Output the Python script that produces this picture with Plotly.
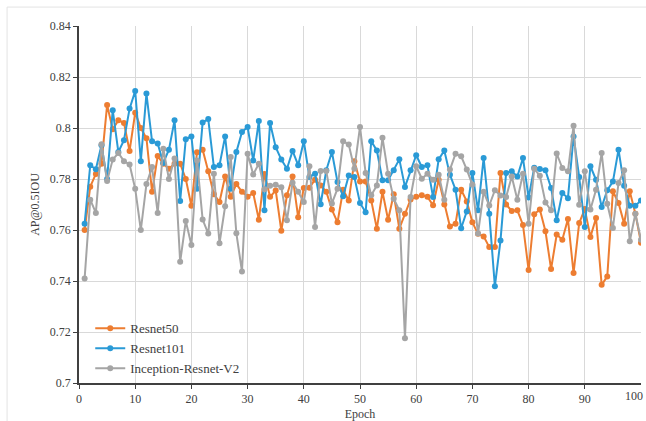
import plotly.graph_objects as go

epochs = list(range(1, 101))

resnet50 = [
    0.760, 0.777, 0.782, 0.786, 0.809, 0.7995, 0.803, 0.802, 0.791, 0.806,
    0.800, 0.796, 0.775, 0.789, 0.786, 0.784, 0.786, 0.786, 0.780, 0.7695,
    0.7905, 0.7915, 0.783, 0.774, 0.771, 0.781, 0.773, 0.778, 0.775, 0.773,
    0.7745, 0.764, 0.782, 0.773, 0.7755, 0.7597, 0.7736, 0.781, 0.765, 0.7765,
    0.7766, 0.7797, 0.7775, 0.775, 0.768, 0.763, 0.7758, 0.7716, 0.787, 0.779,
    0.779, 0.7716, 0.7605, 0.775, 0.764, 0.774, 0.7605, 0.7664, 0.772, 0.773,
    0.7736, 0.773, 0.7697, 0.7797, 0.770, 0.7614, 0.7625, 0.7758, 0.7712, 0.763,
    0.7585, 0.7575, 0.7533, 0.7533, 0.7824, 0.770, 0.7675, 0.7677, 0.762, 0.7443,
    0.7662, 0.768, 0.7595, 0.7447, 0.7582, 0.7562, 0.7643, 0.7431, 0.7627, 0.7682,
    0.7573, 0.7647, 0.7385, 0.7418, 0.7752, 0.7706, 0.7625, 0.7752, 0.7664, 0.755,
]

resnet101 = [
    0.7625, 0.7854, 0.7838, 0.7932, 0.780, 0.807, 0.7906, 0.7952, 0.8076, 0.8145,
    0.787, 0.8135, 0.7948, 0.7939, 0.7863, 0.7915, 0.803, 0.7714, 0.7956, 0.7967,
    0.7762, 0.8022, 0.8035, 0.7847, 0.7854, 0.7967, 0.7762, 0.7906, 0.7984, 0.8004,
    0.7873, 0.8027, 0.7677, 0.802, 0.7925, 0.7876, 0.784, 0.791, 0.7854, 0.7948,
    0.7808, 0.7821, 0.7701, 0.7834, 0.7906, 0.7788, 0.7732, 0.7814, 0.7808, 0.7706,
    0.767, 0.7948, 0.7912, 0.7795, 0.7795, 0.7834, 0.7877, 0.7769, 0.7834, 0.7893,
    0.7847, 0.7854, 0.7729, 0.7877, 0.7912, 0.7817, 0.7758, 0.7607, 0.7673, 0.7824,
    0.7677, 0.7882, 0.7664, 0.7379, 0.7559, 0.7824, 0.783, 0.781, 0.7882, 0.7727,
    0.7844, 0.7839, 0.7834, 0.7765, 0.7638, 0.7745, 0.7725, 0.7967, 0.7808, 0.7612,
    0.785, 0.7797, 0.769, 0.7756, 0.779, 0.7915, 0.7774, 0.7695, 0.7695, 0.7716,
]

inception_v2 = [
    0.741, 0.7719, 0.7667, 0.7936, 0.7792, 0.7876, 0.7902, 0.787, 0.7857, 0.7762,
    0.760, 0.778, 0.7847, 0.7667, 0.7919, 0.780, 0.788, 0.7475, 0.7635, 0.7541,
    0.7873, 0.7641, 0.7586, 0.7821, 0.7548, 0.7693, 0.7886, 0.7587, 0.7437, 0.7899,
    0.7818, 0.786, 0.776, 0.7774, 0.7777, 0.7768, 0.7638, 0.7785, 0.775, 0.771,
    0.785, 0.7612, 0.7831, 0.7831, 0.7704, 0.7762, 0.7948, 0.7935, 0.784, 0.8004,
    0.7824, 0.7736, 0.7775, 0.7962, 0.7821, 0.7723, 0.7677, 0.7175, 0.7729, 0.785,
    0.7801, 0.7821, 0.7797, 0.7817, 0.7719, 0.7837, 0.7899, 0.7889, 0.7837, 0.7778,
    0.7586, 0.775, 0.7696, 0.7756, 0.7735, 0.7729, 0.781, 0.7719, 0.7821, 0.7625,
    0.784, 0.7813, 0.7708, 0.7677, 0.790, 0.7843, 0.783, 0.8009, 0.7699, 0.783,
    0.768, 0.7758, 0.7902, 0.7703, 0.7608, 0.7784, 0.7834, 0.7556, 0.7664, 0.7562,
]

series_names = ["Resnet50", "Resnet101", "Inception-Resnet-V2"]
series_colors = ["#ED7D31", "#2A9AD6", "#A5A5A5"]
x_ticks = [0, 10, 20, 30, 40, 50, 60, 70, 80, 90]
y_ticks = [0.70, 0.72, 0.74, 0.76, 0.78, 0.80, 0.82, 0.84]
y_tick_text = ["0.7", "0.72", "0.74", "0.76", "0.78", "0.8", "0.82", "0.84"]
last_x_tick = 100

FONT = "Liberation Serif, Times New Roman, serif"

fig = go.Figure()
for name, vals, col in zip(series_names, [resnet50, resnet101, inception_v2], series_colors):
    fig.add_trace(go.Scatter(
        x=epochs, y=vals, name=name, mode="lines+markers",
        line=dict(color=col, width=2),
        marker=dict(color=col, size=6),
    ))

# last tick label, kept inside the page at the right edge
fig.add_annotation(
    x=last_x_tick, xref="x", y=0, yref="paper", yanchor="top", yshift=-4,
    xanchor="right", xshift=4,
    text=str(last_x_tick), showarrow=False,
    font=dict(family=FONT, size=12, color="#404040"),
)

# faint outer chart border
fig.add_shape(
    type="rect", xref="paper", yref="paper",
    x0=-0.128, x1=1.2, y0=-0.3, y1=1.053,
    line=dict(color="#E3E3E3", width=1), fillcolor="rgba(0,0,0,0)", layer="below",
)

fig.update_layout(
    width=646, height=421,
    margin=dict(l=79, r=5, t=26, b=38),
    paper_bgcolor="white", plot_bgcolor="white",
    font=dict(family=FONT, size=12, color="#404040"),
    showlegend=True,
    legend=dict(
        x=0.02, y=0.195, xanchor="left", yanchor="top",
        bgcolor="rgba(255,255,255,0)",
        font=dict(family=FONT, size=13, color="#404040"),
        itemwidth=30, tracegroupgap=0,
    ),
    xaxis=dict(
        range=[0, 100], tickvals=x_ticks, ticktext=[str(t) for t in x_ticks],
        showgrid=True, gridcolor="#D9D9D9", gridwidth=1,
        showline=True, linecolor="#404040", linewidth=1.5,
        ticks="outside", ticklen=4, tickcolor="#404040",
        zeroline=False, automargin=False,
        title=dict(text="Epoch", standoff=6, font=dict(family=FONT, size=12)),
        tickfont=dict(family=FONT, size=12),
    ),
    yaxis=dict(
        range=[0.70, 0.84], tickvals=y_ticks, ticktext=y_tick_text,
        showgrid=True, gridcolor="#D9D9D9", gridwidth=1,
        showline=True, linecolor="#404040", linewidth=1.5,
        ticks="outside", ticklen=4, tickcolor="#404040",
        zeroline=False, automargin=False,
        title=dict(text="AP@0.5IOU", standoff=8, font=dict(family=FONT, size=12)),
        tickfont=dict(family=FONT, size=12),
    ),
)

fig.write_html(
    "out.html",
    config={"displayModeBar": False},
    post_script="document.body.style.margin='0';document.body.style.overflow='hidden';",
)
